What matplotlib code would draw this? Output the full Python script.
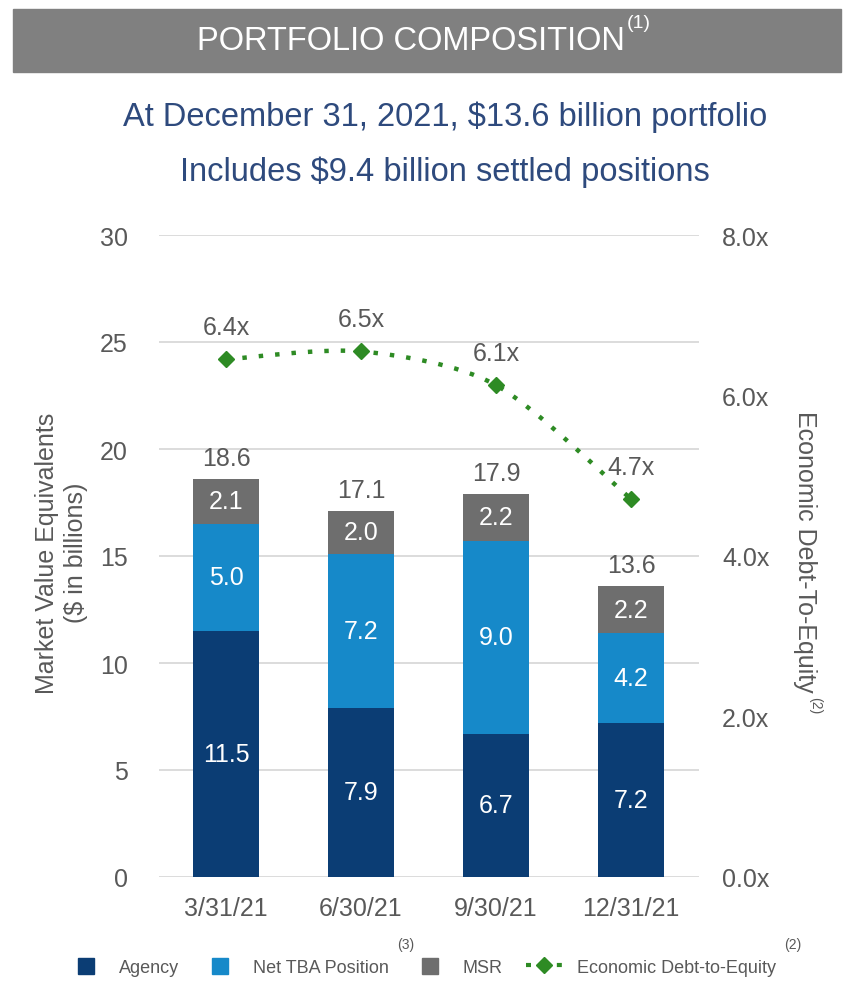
import matplotlib
matplotlib.use('Agg')
import matplotlib.pyplot as plt
from matplotlib.path import Path
from matplotlib.patches import PathPatch, Rectangle
from matplotlib.lines import Line2D
from matplotlib.legend_handler import HandlerPatch
import numpy as np

# data
dates = ['3/31/21', '6/30/21', '9/30/21', '12/31/21']
agency = [11.5, 7.9, 6.7, 7.2]
net_tba = [5.0, 7.2, 9.0, 4.2]
msr = [2.1, 2.0, 2.2, 2.2]
totals = [18.6, 17.1, 17.9, 13.6]
debt_to_equity = [6.45, 6.55, 6.13, 4.71]
debt_labels = ['6.4x', '6.5x', '6.1x', '4.7x']
left_ticks = [0, 5, 10, 15, 20, 25, 30]
right_ticks = [0, 2, 4, 6, 8]

NAVY = '#0B3D74'
BLUE = '#1689C9'
GREY = '#6E6E6E'
GREEN = '#2E8B24'
TEXT = '#595959'
SUB = '#2E4A7D'

plt.rcParams['font.family'] = ['Liberation Sans', 'DejaVu Sans']
NARROW = ['Liberation Sans Narrow', 'Liberation Sans', 'DejaVu Sans']

W, H = 854, 1004
fig = plt.figure(figsize=(W / 100, H / 100), dpi=100)


def fx(px):
    return px / W


def fy(py):
    return 1 - py / H


# header band
fig.patches.append(Rectangle((fx(13), fy(73)), fx(828), 63 / H,
                             transform=fig.transFigure, color='#808080', zorder=0))
title = fig.text(fx(411), fy(42), 'PORTFOLIO COMPOSITION', ha='center', va='center',
                 color='white', fontsize=23.5, family=NARROW)
fig.text(fx(445), fy(117), 'At December 31, 2021, $13.6 billion portfolio',
         ha='center', va='center', color=SUB, fontsize=23.5, family=NARROW)
fig.text(fx(445), fy(172), 'Includes $9.4 billion settled positions',
         ha='center', va='center', color=SUB, fontsize=23.5, family=NARROW)

ax = fig.add_axes([fx(158.5), fy(878), fx(540), 642 / H])
x = np.arange(len(dates))
width = 0.49

b1 = ax.bar(x, agency, width, color=NAVY, zorder=2)
b2 = ax.bar(x, net_tba, width, bottom=agency, color=BLUE, zorder=2)
base = np.array(agency) + np.array(net_tba)
b3 = ax.bar(x, msr, width, bottom=base, color=GREY, zorder=2)

for i in range(len(dates)):
    ax.text(x[i], agency[i] / 2, f'{agency[i]:.1f}', ha='center', va='center',
            color='white', fontsize=18, zorder=3)
    ax.text(x[i], agency[i] + net_tba[i] / 2, f'{net_tba[i]:.1f}', ha='center',
            va='center', color='white', fontsize=18, zorder=3)
    ax.text(x[i], base[i] + msr[i] / 2, f'{msr[i]:.1f}', ha='center', va='center',
            color='white', fontsize=18, zorder=3)
    ax.annotate(f'{totals[i]:.1f}', (x[i], totals[i]), xytext=(0, 15),
                textcoords='offset points', ha='center', va='center',
                color=TEXT, fontsize=18)

ax.set_xlim(-0.5, len(dates) - 0.5)
ax.set_ylim(0, 30)
ax.set_yticks(left_ticks)
ax.set_xticks(x)
ax.set_xticklabels(dates)
ax.yaxis.grid(True, color='#D9D9D9', linewidth=1.3, zorder=0)
ax.set_axisbelow(True)
for s in ax.spines.values():
    s.set_visible(False)
ax.tick_params(axis='y', length=0, pad=22, labelsize=18, labelcolor=TEXT)
ax.tick_params(axis='x', length=0, pad=14, labelsize=18, labelcolor=TEXT)
ax.set_ylabel('Market Value Equivalents\n($ in billions)', fontsize=18, color=TEXT,
              va='center', linespacing=1.25)
ax.yaxis.set_label_coords(-0.179, 0.506)

ax2 = ax.twinx()
ax2.set_ylim(0, 8)
ax2.set_yticks(right_ticks)
ax2.set_yticklabels([f'{v:.1f}x' for v in right_ticks])
for s in ax2.spines.values():
    s.set_visible(False)
ax2.tick_params(axis='y', length=0, pad=17, labelsize=18, labelcolor=TEXT)
rlab = ax2.set_ylabel('Economic Debt-To-Equity', fontsize=18, color=TEXT,
                      rotation=-90, va='center')
ax2.yaxis.set_label_coords(1.197, 0.508)

# smoothed dotted line (Catmull-Rom style through the points, as the slide does)
pts = np.column_stack([x, debt_to_equity]).astype(float)
ext = np.vstack([pts[0], pts, pts[-1]])
verts = [pts[0]]
codes = [Path.MOVETO]
for i in range(len(pts) - 1):
    p0, p1, p2, p3 = ext[i], ext[i + 1], ext[i + 2], ext[i + 3]
    verts += [p1 + (p2 - p0) / 7, p2 - (p3 - p1) / 7, p2]
    codes += [Path.CURVE4] * 3
ax2.add_patch(PathPatch(Path(verts, codes), fill=False, edgecolor=GREEN,
                        linewidth=3.2, linestyle=(0, (1, 2.7)), capstyle='butt', zorder=4))
ax2.plot(x, debt_to_equity, linestyle='none', marker='D', markersize=8.5,
         color=GREEN, zorder=5)
for i in range(len(dates)):
    ax2.annotate(debt_labels[i], (x[i], debt_to_equity[i]), xytext=(0, 23),
                 textcoords='offset points', ha='center', va='center',
                 color=TEXT, fontsize=18)


def square(legend, orig_handle, xdescent, ydescent, width, height, fontsize):
    return Rectangle((-xdescent + (width - height) / 2, -ydescent), height, height)


handles = [Rectangle((0, 0), 1, 1, color=NAVY), Rectangle((0, 0), 1, 1, color=BLUE),
           Rectangle((0, 0), 1, 1, color=GREY),
           Line2D([], [], color=GREEN, linestyle=(0, (1.2, 6.2)), linewidth=3,
                  dash_capstyle='butt', marker='D', markersize=8)]
labels = ['Agency', 'Net TBA Position', 'MSR', 'Economic Debt-to-Equity']
leg = fig.legend(handles, labels, loc='center', bbox_to_anchor=(fx(422), fy(968)),
                 ncol=4, frameon=False, fontsize=13, handlelength=2.0,
                 handleheight=1.0, handletextpad=0.8, columnspacing=1.3,
                 labelcolor=TEXT,
                 handler_map={Rectangle: HandlerPatch(patch_func=square)})

# superscripts placed against the drawn text
fig.canvas.draw()
r = fig.canvas.get_renderer()
bb = title.get_window_extent(r)
fig.text(fx(bb.x1 + 2), fy(24), '(1)', ha='left', va='center', color='white',
         fontsize=14, family=NARROW)
for t in (leg.get_texts()[1], leg.get_texts()[3]):
    bb = t.get_window_extent(r)
    fig.text(fx(bb.x1 + 8), (bb.y1 + 15) / H, '(3)' if t is leg.get_texts()[1] else '(2)',
             ha='left', va='center', color=TEXT, fontsize=10)
bb = rlab.get_window_extent(r)
fig.text((bb.x0 + bb.x1) / 2 / W + fx(10), (bb.y0 - 4) / H, '(2)', rotation=-90,
         ha='center', va='top', color=TEXT, fontsize=10)

fig.savefig('out.png', dpi=100)
